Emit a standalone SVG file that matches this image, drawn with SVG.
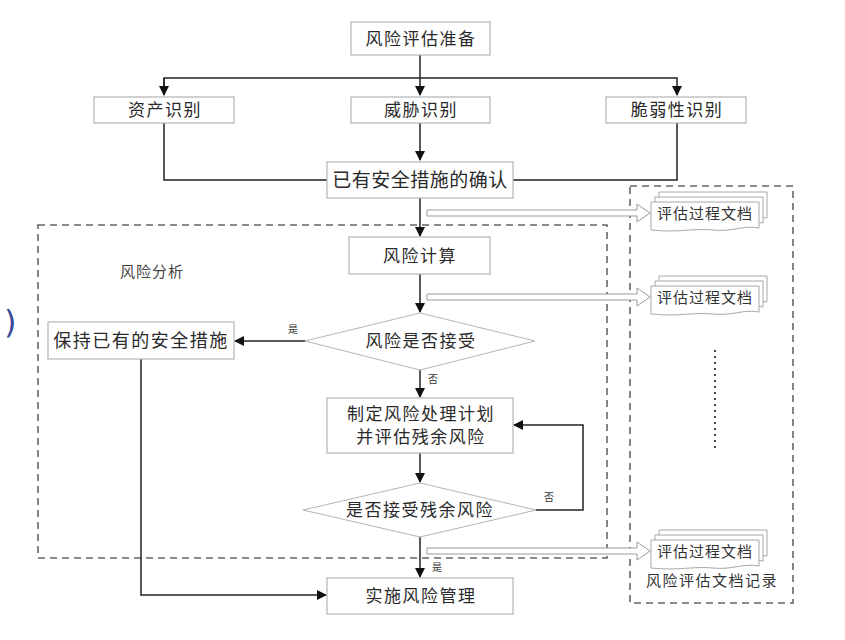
<svg xmlns="http://www.w3.org/2000/svg" width="845" height="640" viewBox="0 0 845 640">
<defs>
<style>
.box{fill:#fff;stroke:#b4b4b4;stroke-width:1.2}
.dia{fill:#fff;stroke:#b4b4b4;stroke-width:1}
.t{font-family:"Noto Sans CJK SC",sans-serif;font-size:17px;fill:#2a2a2a;text-anchor:middle;letter-spacing:1.5px}
.s{font-family:"Noto Sans CJK SC",sans-serif;font-size:10px;fill:#333;text-anchor:middle}
.m{font-family:"Noto Sans CJK SC",sans-serif;font-size:15px;fill:#333;text-anchor:middle;letter-spacing:1px}
.ln{fill:none;stroke:#222;stroke-width:1.5}
.dash{fill:none;stroke:#666;stroke-width:1.6;stroke-dasharray:7,5}
.hol{fill:#fff;stroke:#9a9a9a;stroke-width:1}
.doc{fill:#fff;stroke:#a8a8a8;stroke-width:1}
</style>
<marker id="ah" markerWidth="10" markerHeight="10" refX="9" refY="5" orient="auto" markerUnits="userSpaceOnUse">
<path d="M0,0 L10,5 L0,10 Z" fill="#111"/>
</marker>
<g id="docshape">
<path class="doc" d="M8,-10 H116 V16 C100,13 90,20 70,18 C50,16 35,21 8,18 Z"/>
<path class="doc" d="M4,-5 H112 V21 C96,18 86,25 66,23 C46,21 31,26 4,23 Z"/>
<path class="doc" d="M0,0 H108 V26 C92,23 82,30 62,28 C42,26 27,31 0,28 Z"/>
</g>
</defs>
<rect width="845" height="640" fill="#fff"/>

<text x="4" y="333" font-family="'DejaVu Sans',sans-serif" font-size="32" fill="#3b4a9c">)</text>

<rect class="dash" x="38" y="225" width="569" height="333"/>
<rect class="dash" x="630" y="186" width="163" height="417"/>

<g id="connectors">
<path class="ln" d="M420,55 V95" marker-end="url(#ah)"/>
<path class="ln" d="M164,95 V78 H677 V95" marker-end="url(#ah)"/>
<path class="ln" d="M164,78 V95" marker-end="url(#ah)"/>
<path class="ln" d="M420,123 V160" marker-end="url(#ah)"/>
<path class="ln" d="M164,123 V180 H327"/>
<path class="ln" d="M677,123 V180 H513"/>
<path class="ln" d="M420,198 V236" marker-end="url(#ah)"/>
<path class="ln" d="M420,274 V312" marker-end="url(#ah)"/>
<path class="ln" d="M305,341 H235" marker-end="url(#ah)"/>
<path class="ln" d="M420,370 V397" marker-end="url(#ah)"/>
<path class="ln" d="M420,453 V482" marker-end="url(#ah)"/>
<path class="ln" d="M536,510 H583 V425 H514" marker-end="url(#ah)"/>
<path class="ln" d="M420,537 V577" marker-end="url(#ah)"/>
<path class="ln" d="M141,359 V595 H326" marker-end="url(#ah)"/>
<path class="hol" d="M427,210 H637 V204 L650,213 L637,222 V216 H427 Z"/>
<path class="hol" d="M427,294 H637 V288 L650,297 L637,306 V300 H427 Z"/>
<path class="hol" d="M427,548 H637 V542 L650,551 L637,560 V554 H427 Z"/>
<text class="s" x="293" y="333">是</text>
<text class="s" x="433" y="383">否</text>
<text class="s" x="549" y="501">否</text>
<text class="s" x="437" y="571">是</text>
</g>

<g id="n1"><rect class="box" x="351" y="22" width="139" height="33"/><text class="t" x="421" y="45">风险评估准备</text></g>
<g id="n2"><rect class="box" x="94" y="97" width="140" height="26"/><text class="t" x="165" y="116">资产识别</text></g>
<g id="n3"><rect class="box" x="351" y="97" width="139" height="26"/><text class="t" x="421" y="116">威胁识别</text></g>
<g id="n4"><rect class="box" x="606" y="97" width="140" height="26"/><text class="t" x="677" y="116">脆弱性识别</text></g>
<g id="n5"><rect class="box" x="327" y="162" width="186" height="36"/><text class="t" x="420" y="187" style="font-size:19px;letter-spacing:0.5px">已有安全措施的确认</text></g>
<g id="n6"><rect class="box" x="349" y="237" width="141" height="37"/><text class="t" x="420" y="262">风险计算</text></g>
<g id="n7"><path class="dia" d="M420,313 L535,341 L420,370 L305,341 Z"/><text class="t" x="421" y="347">风险是否接受</text></g>
<g id="n8"><rect class="box" x="48" y="322" width="186" height="37"/><text class="t" x="141" y="347" style="font-size:18px">保持已有的安全措施</text></g>
<g id="n9"><rect class="box" x="327" y="398" width="186" height="55"/><text class="t" x="421" y="420">制定风险处理计划</text><text class="t" x="421" y="443">并评估残余风险</text></g>
<g id="n10"><path class="dia" d="M420,483 L536,510 L420,537 L303,510 Z"/><text class="t" x="420" y="516">是否接受残余风险</text></g>
<g id="n11"><rect class="box" x="327" y="578" width="186" height="36"/><text class="t" x="421" y="602">实施风险管理</text></g>

<g id="lbl1"><text class="m" x="152" y="277" style="fill:#444">风险分析</text></g>
<g id="d1"><use href="#docshape" x="651" y="202"/><text class="m" x="705" y="219">评估过程文档</text></g>
<g id="d2"><use href="#docshape" x="651" y="286"/><text class="m" x="705" y="303">评估过程文档</text></g>
<g id="dots"><path d="M715,350 V450" stroke="#444" stroke-width="2" stroke-dasharray="2,4"/></g>
<g id="d3"><use href="#docshape" x="651" y="540"/><text class="m" x="705" y="557">评估过程文档</text></g>
<g id="lbl2"><text class="m" x="712" y="586" style="letter-spacing:1.5px">风险评估文档记录</text></g>
</svg>
